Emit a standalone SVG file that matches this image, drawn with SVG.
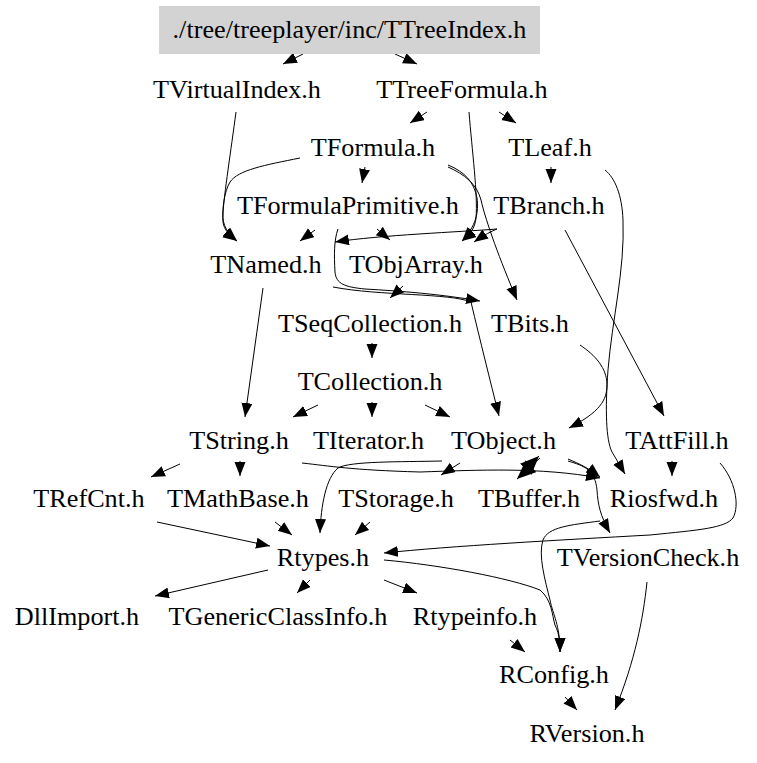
<svg xmlns="http://www.w3.org/2000/svg" width="757" height="763" viewBox="0 0 757 763">
<style>
text{font-family:"Liberation Serif","Times New Roman",serif;font-size:26.2px;text-anchor:middle;fill:#000}
.e path{fill:none;stroke:#000;stroke-width:1;marker-end:url(#a)}
.e path.b{marker-end:url(#b)}
</style>
<defs>
<marker id="a" markerWidth="15" markerHeight="12" refX="14" refY="5.5" orient="auto" markerUnits="userSpaceOnUse"><path d="M0,0L14,5.5L0,11z" fill="#000"/></marker>
<marker id="b" markerWidth="20" markerHeight="16" refX="19" refY="8" orient="auto" markerUnits="userSpaceOnUse"><path d="M0,0L19,8L0,16z" fill="#000"/></marker>
</defs>
<rect width="757" height="763" fill="#fff"/>
<g class="e" id="edges">
<path d="M303,54L283,64"/>
<path d="M395,54L417,64"/>
<path d="M236,112C231,150 224,195 223,213C222,226 228,233 237,241"/>
<path d="M300,158C265,165 238,170 230,182C224,192 222,210 223,222C224,230 230,236 237,241"/>
<path d="M427,112L410,123"/>
<path d="M499,112L516,123"/>
<path d="M469,112C472,150 478,195 476,218C475,228 470,235 462,241"/>
<path d="M448,165C465,172 474,182 477,198C479,212 476,226 462,241"/>
<path d="M448,167C464,174 477,184 481,200C486,222 500,260 517,300"/>
<path d="M365,167L362,183"/>
<path d="M551,167L551,183"/>
<path d="M605,170C615,178 622,195 623,220C625,270 612,320 608,370C605,410 606,440 612,452L625,474"/>
<path d="M565,230L664,416"/>
<path d="M497,229C492,231 484,235 474,242"/>
<path d="M497,229C460,232 380,235 335,242"/>
<path d="M315,230L300,241"/>
<path d="M377,229L390,240"/>
<path d="M338,229C334,240 334,255 335,272C336,284 345,287 365,289C400,291 440,294 480,301"/>
<path d="M263,288L245,417"/>
<path d="M333,287C380,296 450,293 471,302C480,340 490,380 499,416"/>
<path d="M403,286L390,298"/>
<path d="M372,343L372,358"/>
<path d="M318,405L293,417"/>
<path d="M372,402L372,417"/>
<path d="M425,405L450,417"/>
<path d="M580,345C595,355 607,368 607,385C607,400 600,412 569,428"/>
<path d="M180,464L151,477"/>
<path d="M240,461L240,476"/>
<path d="M302,463C330,466 350,470 420,472C480,470 540,467 600,478"/>
<path d="M460,463L441,475"/>
<path d="M442,461C400,462 350,461 338,468C326,478 321,505 320,533"/>
<path class="b" d="M540,458L517,479"/>
<path class="b" d="M518,477L539,456"/>
<path d="M568,459C580,464 590,469 600,477"/>
<path d="M568,461C585,466 595,470 597,490C598,505 600,515 610,533"/>
<path d="M672,461L672,476"/>
<path d="M720,463C735,480 740,505 733,518C725,528 700,530 650,535C560,540 450,546 384,553"/>
<path d="M157,522L270,546"/>
<path d="M275,522L292,535"/>
<path d="M370,522L355,535"/>
<path d="M600,521C570,525 548,527 543,540C538,555 545,580 550,600C553,615 560,625 560,652"/>
<path d="M384,560C440,565 510,578 540,590C552,600 552,615 555,625C560,635 560,645 560,652"/>
<path d="M268,570L155,596"/>
<path d="M310,580L297,593"/>
<path d="M384,580L417,593"/>
<path d="M510,640L525,652"/>
<path d="M565,697L577,710"/>
<path d="M647,582C643,620 635,660 615,710"/>
</g>
<g id="TTreeIndex"><rect x="159" y="6" width="381" height="48" fill="#d3d3d3"/><text x="349.5" y="38">./tree/treeplayer/inc/TTreeIndex.h</text></g>
<g id="TVirtualIndex"><text x="237" y="98">TVirtualIndex.h</text></g>
<g id="TTreeFormula"><text x="462" y="98">TTreeFormula.h</text></g>
<g id="TFormula"><text x="373" y="156">TFormula.h</text></g>
<g id="TLeaf"><text x="550" y="156">TLeaf.h</text></g>
<g id="TFormulaPrimitive"><text x="348" y="214">TFormulaPrimitive.h</text></g>
<g id="TBranch"><text x="549" y="214">TBranch.h</text></g>
<g id="TNamed"><text x="266" y="273">TNamed.h</text></g>
<g id="TObjArray"><text x="416" y="273">TObjArray.h</text></g>
<g id="TSeqCollection"><text x="370" y="332">TSeqCollection.h</text></g>
<g id="TBits"><text x="530" y="332">TBits.h</text></g>
<g id="TCollection"><text x="370" y="390">TCollection.h</text></g>
<g id="TString"><text x="239" y="449">TString.h</text></g>
<g id="TIterator"><text x="368.5" y="449">TIterator.h</text></g>
<g id="TObject"><text x="503.5" y="449">TObject.h</text></g>
<g id="TAttFill"><text x="677" y="449">TAttFill.h</text></g>
<g id="TRefCnt"><text x="89" y="507">TRefCnt.h</text></g>
<g id="TMathBase"><text x="238" y="507">TMathBase.h</text></g>
<g id="TStorage"><text x="396" y="507">TStorage.h</text></g>
<g id="TBuffer"><text x="529" y="507">TBuffer.h</text></g>
<g id="Riosfwd"><text x="664" y="507">Riosfwd.h</text></g>
<g id="Rtypes"><text x="323" y="566">Rtypes.h</text></g>
<g id="TVersionCheck"><text x="648" y="566">TVersionCheck.h</text></g>
<g id="DllImport"><text x="77" y="625">DllImport.h</text></g>
<g id="TGenericClassInfo"><text x="278" y="625">TGenericClassInfo.h</text></g>
<g id="Rtypeinfo"><text x="475" y="625">Rtypeinfo.h</text></g>
<g id="RConfig"><text x="554" y="683">RConfig.h</text></g>
<g id="RVersion"><text x="587" y="742">RVersion.h</text></g>
</svg>
